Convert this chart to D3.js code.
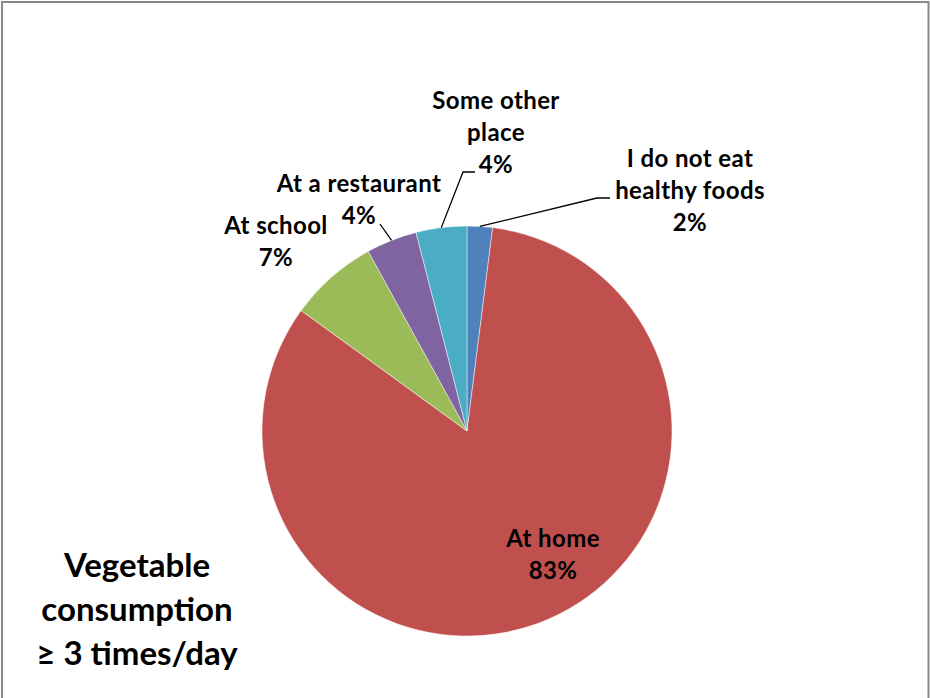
<!DOCTYPE html>
<html><head><meta charset="utf-8">
<script src="https://cdn.jsdelivr.net/npm/d3@7"></script>
<style>body{margin:0;background:#fff}svg{display:block}text{font-family:Lato,"Open Sans",sans-serif;font-weight:bold;fill:#000}</style>
</head><body>
<script>
// Data
const categories = ["I do not eat healthy foods", "At home", "At school", "At a restaurant", "Some other place"];
const values = [2, 83, 7, 4, 4];
const colors = ["#4F81BD", "#C0504D", "#9BBB59", "#8064A2", "#4BACC6"];
const labelLines = [["I do not eat", "healthy foods"], ["At home"], ["At school"], ["At a restaurant"], ["Some other", "place"]];
const titleLines = ["Vegetable", "consumption", "\u2265 3 times/day"];

// Layout (not data)
const W = 930, H = 698;
const cx = 467, cy = 431, R = 205;
// label anchor: centre x, baseline of first line
const labelPos = [[690, 167], [553, 547], [276, 234], [359, 192], [496, 109]];
// leader: elbow point and end of horizontal tick (null = no leader)
const leaders = [[[597, 198], [610, 198]], null, null, [[380, 224]], [[463, 172], [475, 172]]];
const lineH = 32;

const svg = d3.select("body").append("svg").attr("width", W).attr("height", H);
svg.append("rect").attr("x", 2).attr("y", 2).attr("width", 926.5).attr("height", 710)
  .attr("fill", "none").attr("stroke", "#888").attr("stroke-width", 2);

const pie = d3.pie().sort(null).value(d => d)(values);
const arc = d3.arc().innerRadius(0).outerRadius(R);
const g = svg.append("g").attr("transform", `translate(${cx},${cy})`);
g.selectAll("path").data(pie).join("path")
  .attr("d", arc).attr("fill", (d, i) => colors[i])
  .attr("stroke", "rgba(255,255,255,0.6)").attr("stroke-width", 0.8);

// leader lines
pie.forEach((d, i) => {
  if (!leaders[i]) return;
  const a = (d.startAngle + d.endAngle) / 2;
  const p0 = [cx + R * Math.sin(a), cy - R * Math.cos(a)];
  const pts = [p0, ...leaders[i]];
  svg.append("path").attr("d", d3.line()(pts)).attr("fill", "none")
    .attr("stroke", "#000").attr("stroke-width", 1.3);
});

// labels
pie.forEach((d, i) => {
  const t = svg.append("text").attr("text-anchor", "middle")
    .style("font-size", "24px").style("letter-spacing", "0.4px");
  const lines = labelLines[i].concat([Math.round(values[i]) + "%"]);
  lines.forEach((s, j) => {
    t.append("tspan").attr("x", labelPos[i][0]).attr("y", labelPos[i][1] + j * lineH).text(s);
  });
});

// title
const tt = svg.append("text").attr("text-anchor", "middle").style("font-size", "33px");
titleLines.forEach((s, j) => {
  tt.append("tspan").attr("x", 137).attr("y", 577 + j * 44).text(s);
});
</script>
</body></html>
